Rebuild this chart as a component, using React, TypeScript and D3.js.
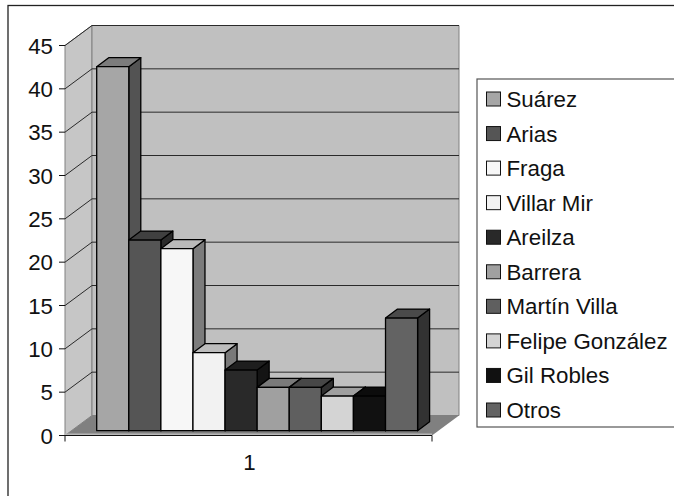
import React from 'react';
import * as d3 from 'd3';

const WIDTH = 674;
const HEIGHT = 496;
const FONT = 'Liberation Sans, Arial, sans-serif';

const names = ['Suárez', 'Arias', 'Fraga', 'Villar Mir', 'Areilza', 'Barrera', 'Martín Villa', 'Felipe González', 'Gil Robles', 'Otros'];
const values = [42, 22, 21, 9, 7, 5, 5, 4, 4, 13];
const yTicks = [0, 5, 10, 15, 20, 25, 30, 35, 40, 45];
const categories = ['1'];

// front / top / side shades per series
const fronts = ['#a6a6a6', '#555555', '#f7f7f7', '#f2f2f2', '#292929', '#a0a0a0', '#5f5f5f', '#d4d4d4', '#111111', '#636363'];
const tops = ['#7c7c7c', '#404040', '#bababa', '#bdbdbd', '#1e1e1e', '#7a7a7a', '#474747', '#9f9f9f', '#0c0c0c', '#4a4a4a'];
const sides = ['#535353', '#2b2b2b', '#7c7c7c', '#797979', '#141414', '#505050', '#303030', '#6a6a6a', '#080808', '#323232'];

// plot box
const LEFT = 65;
const RIGHT = 432;
const DX = 27; // wall depth
const DY = -20;
const BAR_DX = 12; // bar depth
const BAR_DY = -9;
const BAR_BASE = -4.8; // bars stand a bit behind the front edge of the floor
const LEG_X = 477;
const LEG_Y = 79;
const LEG_B = 427;

const y = d3.scaleLinear().domain([0, 45]).range([435.5, 45.5]);
const x = d3.scaleBand().domain(names).range([96.7, 417.6]);
const legendY = d3.scalePoint().domain(names).range([99, 410]);

const poly = (pts: number[][]) => d3.line()(pts as [number, number][]) + 'Z';

export default function App() {
  const y0 = y(0);
  const yTop = y(45);
  const w = x.bandwidth();

  return (
    <svg width={WIDTH} height={HEIGHT} style={{ position: 'absolute', left: 0, top: 0, background: '#fff' }} fontFamily={FONT}>
      {/* outer frame, runs off the page on the right and bottom */}
      <rect x={8} y={5.5} width={WIDTH + 20} height={HEIGHT + 20} fill="#fff" stroke="#222" strokeWidth={1.3} />

      {/* walls and floor */}
      <path d={poly([[LEFT, y0], [LEFT + DX, y0 + DY], [LEFT + DX, yTop + DY], [LEFT, yTop]])} fill="#c6c6c6" stroke="#808080" />
      <path d={poly([[LEFT + DX, y0 + DY], [RIGHT + DX, y0 + DY], [RIGHT + DX, yTop + DY], [LEFT + DX, yTop + DY]])} fill="#c0c0c0" stroke="#808080" />
      <path d={poly([[LEFT, y0], [RIGHT, y0], [RIGHT + DX, y0 + DY], [LEFT + DX, y0 + DY]])} fill="#808080" />
      <line x1={LEFT} x2={RIGHT} y1={y0 - 1} y2={y0 - 1} stroke="#b8b8b8" strokeWidth={2} />

      {/* gridlines */}
      {yTicks.slice(1).map((t) => (
        <g key={t} fill="none" stroke="#2a2a2a" strokeWidth={1}>
          <path d={`M${LEFT},${y(t)}L${LEFT + DX},${y(t) + DY}L${RIGHT + DX},${y(t) + DY}`} />
        </g>
      ))}

      {/* axes */}
      <line x1={LEFT} x2={RIGHT} y1={y0} y2={y0} stroke="#111" />
      <line x1={LEFT} x2={LEFT} y1={y0} y2={y0 + 6} stroke="#111" />
      <line x1={RIGHT} x2={RIGHT} y1={y0} y2={y0 + 6} stroke="#111" />
      {yTicks.map((t) => (
        <g key={t}>
          <line x1={LEFT - 6} x2={LEFT} y1={y(t)} y2={y(t)} stroke="#111" />
          <text x={53} y={y(t)} dy="0.36em" textAnchor="end" fontSize={22.3} fill="#111">{t}</text>
        </g>
      ))}
      {categories.map((c) => (
        <text key={c} x={(LEFT + RIGHT) / 2 + 1} y={462} dy="0.36em" textAnchor="middle" fontSize={22.3} fill="#111">{c}</text>
      ))}

      {/* bars, drawn back to front so the fronts cover the neighbour's side */}
      {names.map((n, i) => {
        const bx = x(n)!;
        const by = y(values[i]) + BAR_BASE;
        const base = y0 + BAR_BASE;
        return (
          <g key={n} stroke="#000" strokeWidth={1.3} strokeLinejoin="round">
            <path d={poly([[bx + w, by], [bx + w + BAR_DX, by + BAR_DY], [bx + w + BAR_DX, base + BAR_DY], [bx + w, base]])} fill={sides[i]} />
            <path d={poly([[bx, by], [bx + BAR_DX, by + BAR_DY], [bx + w + BAR_DX, by + BAR_DY], [bx + w, by]])} fill={tops[i]} />
            <rect x={bx} y={by} width={w} height={base - by} fill={fronts[i]} />
          </g>
        );
      })}

      {/* legend */}
      <rect x={LEG_X} y={LEG_Y} width={WIDTH} height={LEG_B - LEG_Y} fill="#fff" stroke="#555" strokeWidth={1.2} />
      {names.map((n, i) => (
        <g key={n}>
          <rect x={486.5} y={legendY(n)! - 7} width={14} height={14} fill={fronts[i]} stroke="#111" />
          <text x={506.5} y={legendY(n)!} dy="0.36em" fontSize={22.3} fill="#111">{n}</text>
        </g>
      ))}
    </svg>
  );
}
